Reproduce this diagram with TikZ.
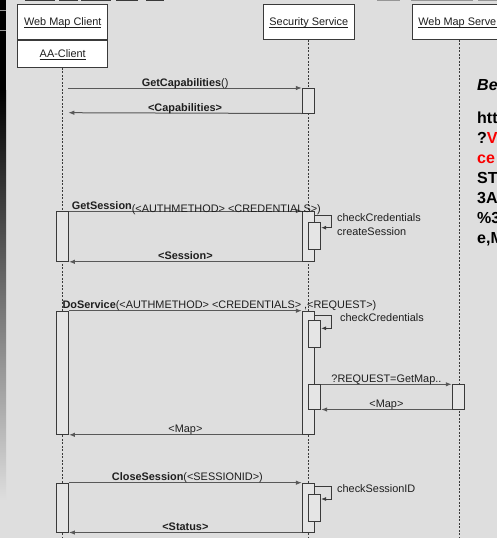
\documentclass[tikz,border=0pt]{standalone}
\usepackage{fontspec}
\setmainfont{Liberation Sans}
\usetikzlibrary{
  arrows.meta,
  positioning
}
\definecolor{panelgray}{RGB}{222,222,222}
\definecolor{actfill}{RGB}{229,229,229}
\definecolor{framegray}{RGB}{58,58,58}
\definecolor{msggray}{RGB}{88,88,88}
\definecolor{textgray}{RGB}{30,30,30}
\definecolor{stripgray}{RGB}{150,150,150}
\definecolor{urlred}{RGB}{250,0,0}
\newcommand{\seqfont}{\fontsize{10.9}{13}\selectfont}
\newcommand{\urlfont}{\fontsize{16}{20}\selectfont\bfseries}
\newcommand{\headtext}[1]{\underline{\smash{#1}}}
\tikzset{
  >={Latex[length=6pt,width=4.5pt]},
  head/.style={
    draw=framegray,
    fill=white,
    line width=0.9pt,
    minimum height=35pt,
    inner sep=0pt,
    text height=8pt,
    text depth=0pt,
    font=\seqfont,
    text=textgray
  },
  lifeline/.style={
    draw=framegray,
    line width=0.7pt,
    dash pattern=on 2pt off 1.5pt
  },
  activation/.style={
    draw=framegray,
    fill=actfill,
    line width=0.8pt,
    minimum width=12.5pt,
    inner sep=0pt,
    anchor=north
  },
  msg/.style={
    ->,
    line width=1pt,
    draw=msggray
  },
  selfcall/.style={
    -{Latex[length=5pt,width=4pt]},
    line width=0.8pt,
    draw=framegray
  },
  msglabel/.style={
    font=\seqfont,
    text=textgray,
    inner sep=0pt,
    anchor=base,
    yshift=2pt
  },
  note/.style={
    font=\seqfont,
    text=textgray,
    inner sep=0pt,
    anchor=base west
  },
  urltext/.style={
    font=\urlfont,
    align=left,
    inner sep=0pt,
    anchor=north west
  }
}

\begin{document}
\begin{tikzpicture}[x=1pt, y=-1pt]

\useasboundingbox (0,0) rectangle (497,538);
\clip (0,0) rectangle (497,538);
\fill[panelgray] (0,0) rectangle (497,538);

% Window edge.
\fill[black] (0,0) rectangle (6,90);
\shade[top color=black, bottom color=panelgray] (0,90) rectangle (6,500);
\draw[stripgray, line width=0.8pt] (0,10) -- (6,10) (0,30) -- (6,30);
\foreach \a/\b in {25/55, 59/78, 81/111, 116/138, 146/164}
  \fill[framegray] (\a,0) rectangle (\b,1.2);
\foreach \a/\b in {377/400, 411/473, 478/497}
  \fill[stripgray] (\a,0) rectangle (\b,1.2);

% Lifeline heads.
\node[head, minimum width=90pt, anchor=north west] (client) at (17.3,4) {\headtext{Web Map Client}};
\node[head, minimum width=90pt, minimum height=27pt, anchor=north] (aaclient) at (client.south) {\headtext{AA-Client}};
\node[head, minimum width=91.3pt, anchor=north west] (security) at (262.7,4) {\headtext{Security Service}};
\node[head, minimum width=94pt, anchor=north west] (mapserver) at (411.7,4) {\headtext{Web Map Server}};

% Lifelines.
\coordinate (bottom) at (0,538);
\draw[lifeline] (aaclient.south) -- (aaclient.south |- bottom);
\draw[lifeline] (security.south) -- (security.south |- bottom);
\draw[lifeline] (mapserver.south) -- (mapserver.south |- bottom);

% Activation boxes.
\node[activation, minimum height=24.7pt] (secact0) at (308.5,88) {};
\node[activation, minimum height=50pt] (cliact1) at (62.3,211) {};
\node[activation, minimum height=50pt] (secact1) at (308.5,211) {};
\node[activation, minimum height=27pt] (subact1) at (314.5,222.3) {};
\node[activation, minimum height=123.3pt] (cliact2) at (62.3,310.7) {};
\node[activation, minimum height=123.3pt] (secact2) at (308.5,310.7) {};
\node[activation, minimum height=26.7pt] (subact2) at (314.5,320) {};
\node[activation, minimum height=24.4pt] (subact3) at (314.5,384.3) {};
\node[activation, minimum height=24.4pt] (mapact) at (458.4,384.3) {};
\node[activation, minimum height=49pt] (cliact3) at (62.3,482.7) {};
\node[activation, minimum height=49pt] (secact3) at (308.5,482.7) {};
\node[activation, minimum height=26.4pt] (subact4) at (314.5,494.3) {};

% Capabilities.
\coordinate (capstart) at (68.3,88);
\coordinate (capend) at (68.3,112.7);
\draw[msg] (capstart) -- (secact0.north west)
  node[msglabel, midway] (lblcap) {\textbf{GetCapabilities}()};
\draw[msg] (secact0.south west) -- (capend)
  node[msglabel, midway] (lblcapret) {\textbf{<Capabilities>}};

% Session.
\draw[msg] (cliact1.north east) -- (secact1.north west);
\node[msglabel, anchor=base west] (lblsess) at ([xshift=2.7pt]cliact1.north east)
  {\textbf{GetSession}\raisebox{-3pt}{(<AUTHMETHOD> <CREDENTIALS>)}};
\draw[selfcall] ([yshift=-4pt]secact1.north east) -- ++(16.7,0) |- ([yshift=-5.4pt]subact1.north east);
\node[note] (chk1) at (337,221) {checkCredentials};
\node[note] (create) at (337,235) {createSession};
\draw[msg] (secact1.south west) -- (cliact1.south east)
  node[msglabel, midway] (lblsessret) {\textbf{<Session>}};

% Service call.
\draw[msg] (cliact2.north east) -- (secact2.north west);
\node[msglabel, anchor=base west] (lblserv) at (cliact2.north)
  {\textbf{DoService}(<AUTHMETHOD> <CREDENTIALS> ,<REQUEST>)};
\draw[selfcall] ([yshift=-5pt]secact2.north east) -- ++(16.7,0) |- ([yshift=-8.3pt]subact2.north east);
\node[note] (chk2) at (340,321) {checkCredentials};
\draw[msg] (subact3.north east) -- (mapact.north west)
  node[msglabel, midway] (lblreq) {?REQUEST=GetMap..};
\draw[msg] (mapact.south west) -- (subact3.south east)
  node[msglabel, midway] (lblmap) {<Map>};
\draw[msg] (secact2.south west) -- (cliact2.south east)
  node[msglabel, midway] (lblmapret) {<Map>};

% Closing.
\draw[msg] (cliact3.north east) -- (secact3.north west)
  node[msglabel, midway, xshift=2pt] (lblclose) {\textbf{CloseSession}(<SESSIONID>)};
\draw[selfcall] ([yshift=-3.3pt]secact3.north east) -- ++(16.7,0) |- ([yshift=-4.7pt]subact4.north east);
\node[note] (chk3) at (337,492) {checkSessionID};
\draw[msg] (secact3.south west) -- (cliact3.south east)
  node[msglabel, midway] (lblstatus) {\textbf{<Status>}};

% Request text at the edge.
\node[urltext] (reqtext) at (477,79.5) {%
  \textit{Be}\\[13pt]
  htt\\
  ?\textcolor{urlred}{V}\\
  \textcolor{urlred}{ce}\\
  ST\\
  3A\\
  \%3\\
  e,M};

\end{tikzpicture}
\end{document}
